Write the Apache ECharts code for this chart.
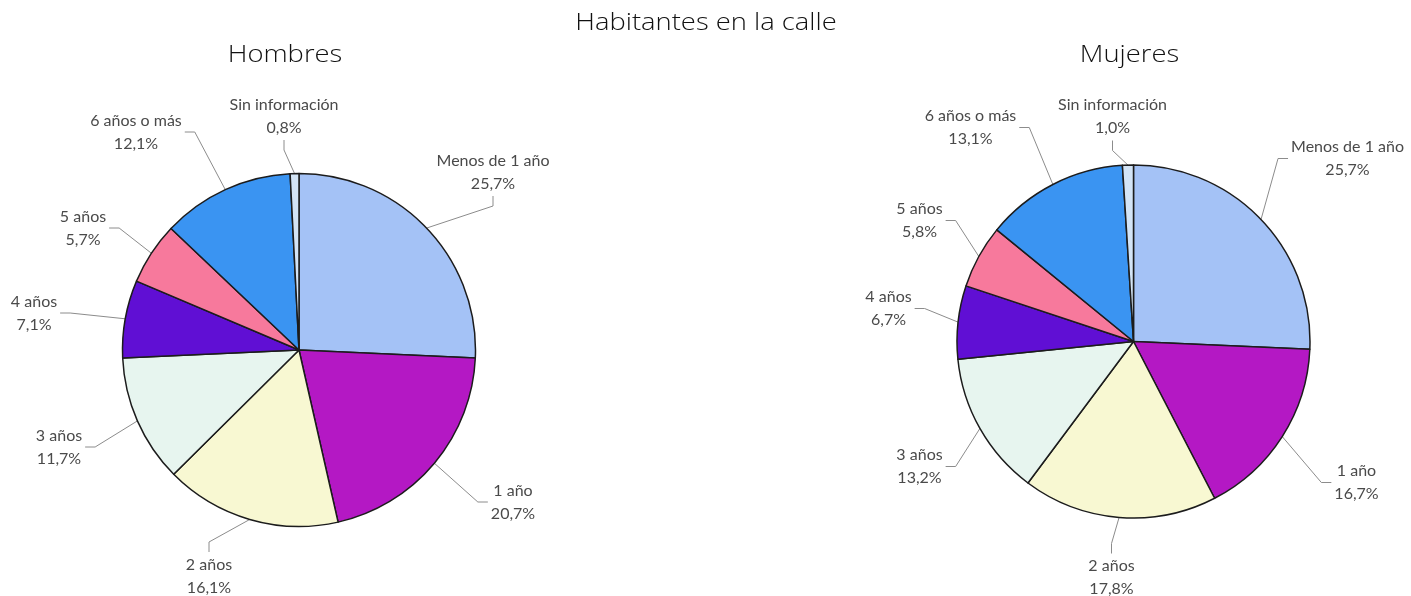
<!DOCTYPE html>
<html>
<head>
<meta charset="utf-8">
<title>Habitantes en la calle</title>
<script src="https://cdn.jsdelivr.net/npm/echarts@6/dist/echarts.min.js"></script>
<style>
  html, body { margin: 0; padding: 0; background: #ffffff; }
  #chart { width: 1411px; height: 596px; }
</style>
</head>
<body>
<div id="chart"></div>
<script>
// Years spent living on the street, share of each group (%)
const categories = ['Menos de 1 año', '1 año', '2 años', '3 años', '4 años', '5 años', '6 años o más', 'Sin información'];
const hombres = [25.7, 20.7, 16.1, 11.7, 7.1, 5.7, 12.1, 0.8];
const mujeres = [25.7, 16.7, 17.8, 13.2, 6.7, 5.8, 13.1, 1.0];

const sliceColors = ['#a4c2f6', '#b418c4', '#f8f8d2', '#e7f5ef', '#600fd4', '#f7799c', '#3a94f2', '#d3e4f6'];

// Pie geometry
const hombresCenter = [299, 350];
const mujeresCenter = [1133.5, 341.5];
const pieRadius = 176.5;

// Label centres, offset from the pie centre, and the side the leader line enters
const hombresLabelOffsets = [[194, -178], [214, 152], [-90, 226], [-240, 97], [-265, -37], [-216, -122], [-163, -218], [-15, -234]];
const mujeresLabelOffsets = [[214, -183], [223, 141], [-22, 236], [-214, 125], [-245, -33], [-214, -121], [-163, -214], [-21, -225]];
const hombresTails = ['v', 'h', 'v', 'h', 'h', 'h', 'h', 'v'];
const mujeresTails = ['h', 'h', 'v', 'h', 'h', 'h', 'h', 'v'];

const fmt = v => v.toFixed(1).replace('.', ',');

function leaderLayout(center, values, offsets, tails) {
  const total = values.reduce((a, b) => a + b, 0);
  const mids = [];
  let acc = 0;
  values.forEach(v => { mids.push((acc + v / 2) / total * 2 * Math.PI); acc += v; });
  return function (params) {
    const i = params.dataIndex;
    const a = mids[i];
    const ax = center[0] + pieRadius * Math.sin(a);
    const ay = center[1] - pieRadius * Math.cos(a);
    const lx = center[0] + offsets[i][0];
    const ly = center[1] + offsets[i][1];
    const hw = params.labelRect.width / 2;
    const hh = params.labelRect.height / 2;
    let ex, ey, bx, by;
    if (tails[i] === 'h') {
      const s = lx > ax ? -1 : 1;
      ex = lx + s * (hw + 3); ey = ly;
      bx = ex + s * 10; by = ey;
    } else {
      const s = ly > ay ? -1 : 1;
      ex = lx; ey = ly + s * (hh + 1);
      bx = ex; by = ey + s * 10;
    }
    return {
      x: lx, y: ly, align: 'center', verticalAlign: 'middle',
      labelLinePoints: [[ax, ay], [bx, by], [ex, ey]]
    };
  };
}

function pieSeries(name, values, center, offsets, tails) {
  return {
    name: name,
    type: 'pie',
    center: center,
    radius: pieRadius,
    startAngle: 90,
    clockwise: true,
    avoidLabelOverlap: false,
    animation: false,
    silent: true,
    itemStyle: { borderColor: '#1c1c1c', borderWidth: 1.5 },
    label: {
      show: true,
      position: 'outside',
      formatter: p => p.name + '\n' + fmt(p.value) + '%',
      fontFamily: 'Lato, "Open Sans", sans-serif',
      fontSize: 16,
      lineHeight: 23,
      color: '#4a4a4a',
      align: 'center'
    },
    labelLine: { show: true, length: 10, length2: 10, smooth: false, lineStyle: { color: '#8c8c8c', width: 1 } },
    labelLayout: leaderLayout(center, values, offsets, tails),
    data: categories.map((c, i) => ({ name: c, value: values[i], itemStyle: { color: sliceColors[i] } }))
  };
}

// Headings: light face, stretched a little wider
function heading(text, x, y) {
  return {
    type: 'text', x: x, y: y, scaleX: 1.14, silent: true,
    style: {
      text: text, align: 'center', verticalAlign: 'middle',
      font: '300 24px "Open Sans", Lato, sans-serif', fill: '#111111'
    }
  };
}

const chart = echarts.init(document.getElementById('chart'), null, { renderer: 'canvas' });
chart.setOption({
  backgroundColor: '#ffffff',
  graphic: [
    heading('Habitantes en la calle', 706, 23),
    heading('Hombres', 285, 55),
    heading('Mujeres', 1129.5, 55)
  ],
  series: [
    pieSeries('Hombres', hombres, hombresCenter, hombresLabelOffsets, hombresTails),
    pieSeries('Mujeres', mujeres, mujeresCenter, mujeresLabelOffsets, mujeresTails)
  ]
});
</script>
</body>
</html>
